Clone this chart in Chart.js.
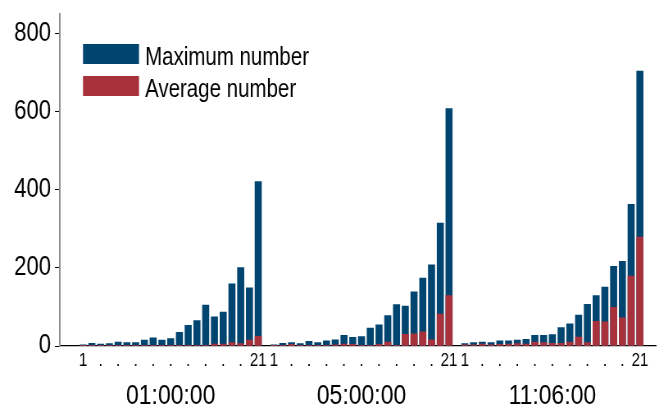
<!DOCTYPE html>
<html>
<head>
<meta charset="utf-8">
<script src="https://cdn.jsdelivr.net/npm/chart.js@4.4.1/dist/chart.umd.min.js"></script>
<style>
  html, body { margin: 0; padding: 0; background: #fff; overflow: hidden; }
  #outer { width: 659px; height: 408px; position: relative; overflow: hidden; }
  /* horizontally condensed rendering to mimic a narrow typeface */
  #wrap { width: 804px; height: 408px; position: absolute; left: 0; top: 0;
          transform: scaleX(0.81965); transform-origin: 0 0; }
</style>
</head>
<body>
<div id="outer"><div id="wrap"><canvas id="c" width="804" height="408"></canvas></div></div>
<script>
// ---- data ----
const groups = ['01:00:00', '05:00:00', '11:06:00'];
const binTickLabels = ['1','','.','','.','','.','','.','','.','','.','','.','','.','','.','','21'];
const yTickValues = [0, 200, 400, 600, 800];
const seriesNames = ['Maximum number', 'Average number'];

const maxG1 = [3, 7, 5, 6, 10, 9, 9, 15, 21, 15, 19, 35, 53, 65, 105, 75, 87, 159, 201, 149, 421];
const avgG1 = [1, 1, 1, 1, 1, 1, 1, 1, 1, 1, 1, 1, 1, 2, 1, 5, 5, 9, 6, 15, 25];
const maxG2 = [3, 7, 9, 6, 12, 9, 13, 16, 27, 22, 24, 46, 54, 78, 106, 102, 139, 174, 208, 315, 608];
const avgG2 = [1, 1, 4, 1, 2, 1, 2, 3, 5, 4, 2, 1, 4, 10, 2, 30, 31, 36, 16, 82, 129];
const maxG3 = [6, 9, 10, 9, 13, 13, 15, 17, 27, 27, 29, 47, 57, 79, 107, 129, 151, 204, 217, 363, 704];
const avgG3 = [3, 3, 5, 3, 4, 5, 6, 5, 10, 9, 7, 7, 10, 23, 9, 63, 62, 99, 72, 179, 279];

// ---- layout helpers (bar index -> position on a linear x scale) ----
const SX = 0.81965;               // horizontal condense factor of the wrapper
const px = v => v / SX;           // page px -> canvas px (horizontal)
const GROUP_SPAN = 21.8;
const X_MIN = -1.1, X_MAX = 65.9;
const xOf = (g, i) => g * GROUP_SPAN + i + 1;

const maxGroups = [maxG1, maxG2, maxG3];
const avgGroups = [avgG1, avgG2, avgG3];
function toPoints(groupArrays) {
  const pts = [];
  groupArrays.forEach((arr, g) => arr.forEach((v, i) => pts.push({ x: xOf(g, i), y: v })));
  return pts;
}
const binPositions = [];
groups.forEach((_, g) => binTickLabels.forEach((_, i) => binPositions.push(xOf(g, i))));
const groupCenters = groups.map((_, g) => xOf(g, (binTickLabels.length - 1) / 2));

const BLUE = 'rgb(0,68,112)';
const RED = 'rgb(168,50,60)';
const FONT = "'Liberation Sans', Arial, sans-serif";

const textPlugin = {
  id: 'insideLegendAndGroups',
  afterDraw(chart) {
    const ctx = chart.ctx;
    const colors = [BLUE, RED];
    ctx.save();
    // legend inside plot
    ctx.font = '25px ' + FONT;
    ctx.textBaseline = 'alphabetic';
    ctx.textAlign = 'left';
    seriesNames.forEach((name, k) => {
      const y = 44 + k * 32;
      ctx.fillStyle = colors[k];
      ctx.fillRect(px(83), y, px(56), 20);
      ctx.fillStyle = '#000';
      ctx.fillText(name, px(145), y + 21);
    });
    // group labels under the bin ticks, placed with the x scale
    const xs = chart.scales.x;
    ctx.font = '28px ' + FONT;
    ctx.textAlign = 'center';
    groups.forEach((name, g) => {
      ctx.fillText(name, xs.getPixelForValue(groupCenters[g]), 404);
    });
    ctx.restore();
  }
};

new Chart(document.getElementById('c'), {
  type: 'bar',
  data: {
    datasets: [
      { label: seriesNames[1], data: toPoints(avgGroups), backgroundColor: RED, barThickness: px(6.5), order: 0 },
      { label: seriesNames[0], data: toPoints(maxGroups), backgroundColor: BLUE, barThickness: px(6.5), order: 1 }
    ]
  },
  options: {
    responsive: false,
    animation: false,
    events: [],
    layout: { padding: { top: 14, right: px(3), left: 0, bottom: 0 } },
    datasets: { bar: { grouped: false } },
    plugins: { legend: { display: false }, tooltip: { enabled: false } },
    scales: {
      x: {
        type: 'linear', position: 'bottom',
        min: X_MIN, max: X_MAX,
        grid: { display: false },
        border: { display: true, color: '#000', width: 1.3 },
        afterBuildTicks(s) { s.ticks = binPositions.map(v => ({ value: v })); },
        afterFit(s) { s.height = 62; s.paddingLeft = 0; s.paddingRight = 0; },
        ticks: {
          autoSkip: false, maxRotation: 0, padding: -4, color: '#000',
          font: { family: FONT, size: 18.5 },
          callback: (v, idx) => binTickLabels[idx % binTickLabels.length]
        }
      },
      y: {
        type: 'linear', min: 0, max: 850,
        grid: { display: true, drawOnChartArea: false, drawTicks: true, tickLength: px(5), color: '#000', tickColor: '#000' },
        border: { display: true, color: '#8c8c8c', width: px(1.5) },
        afterBuildTicks(s) { s.ticks = yTickValues.map(v => ({ value: v })); },
        afterFit(s) { s.width = px(60); s.paddingTop = 0; s.paddingBottom = 0; },
        ticks: { padding: px(4), color: '#000', font: { family: FONT, size: 27 } }
      }
    }
  },
  plugins: [textPlugin]
});
</script>
</body>
</html>
